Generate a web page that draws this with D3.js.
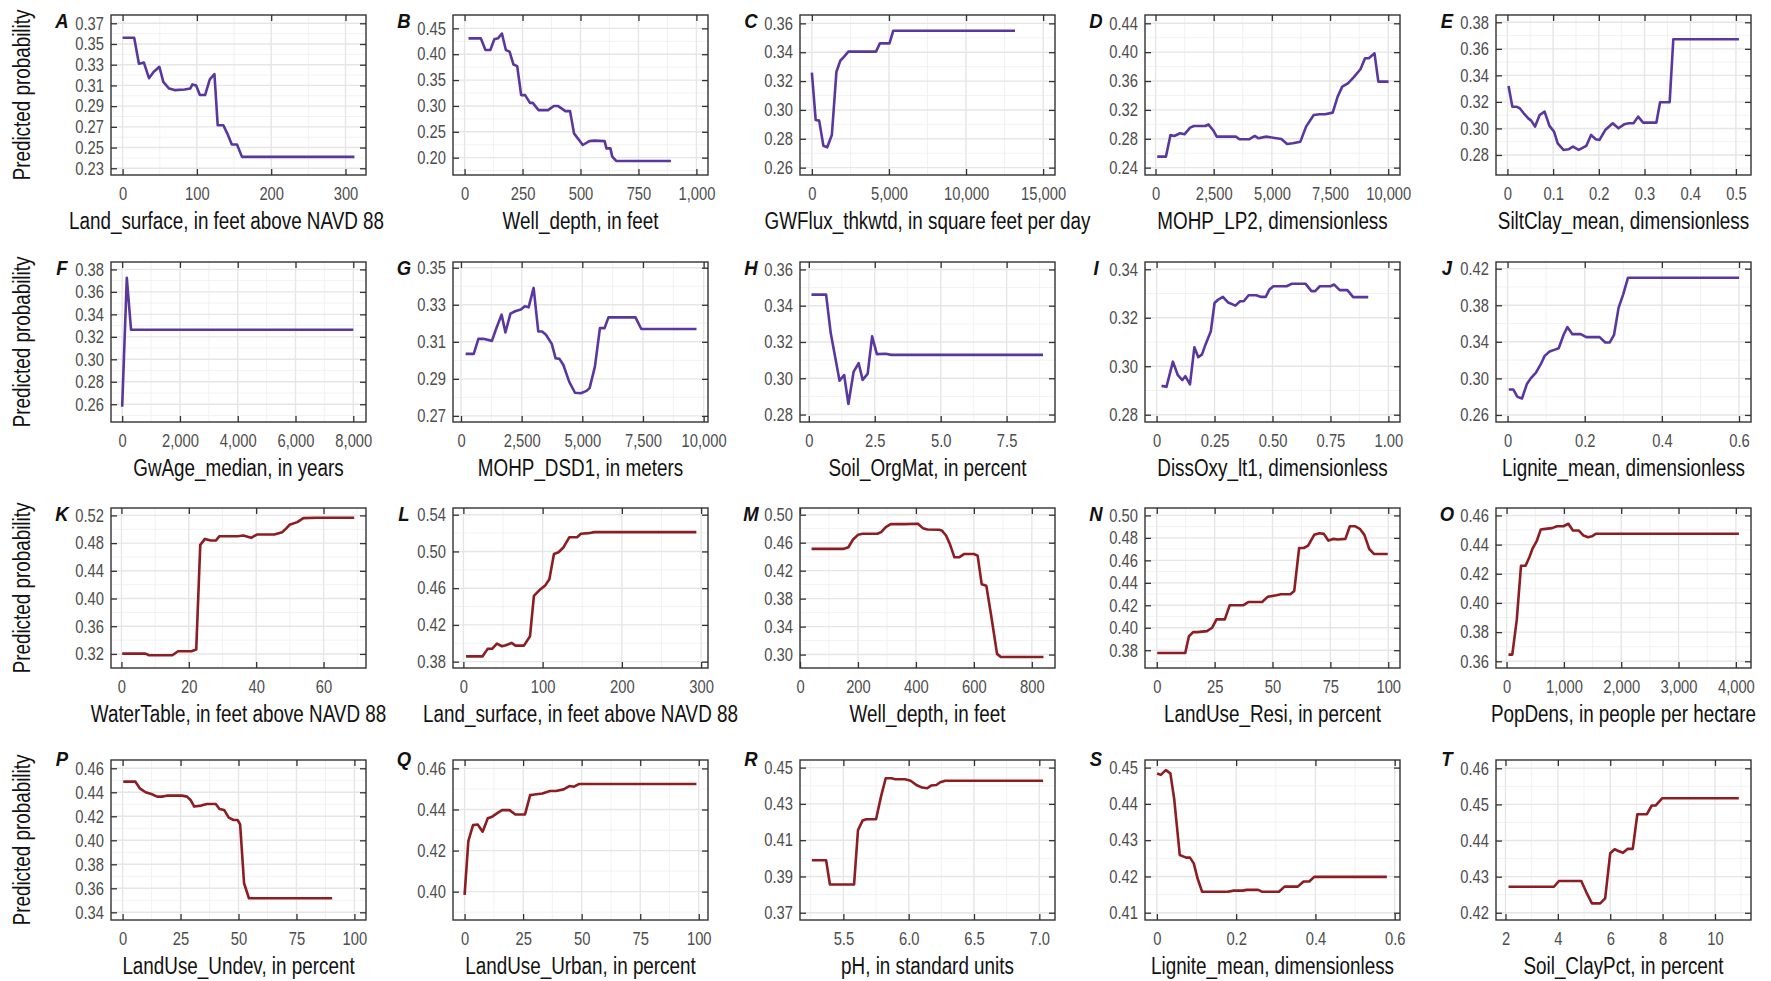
<!DOCTYPE html>
<html>
<head>
<meta charset="utf-8">
<script src="https://cdn.jsdelivr.net/npm/d3@7"></script>
<style>
  body { margin: 0; background: #fff; }
</style>
</head>
<body>
<svg width="1771" height="981"></svg>
<script>
// panel letters and x axis titles
var panelLetters = ["A","B","C","D","E","F","G","H","I","J","K","L","M","N","O","P","Q","R","S","T"];
var axisTitles = [
  "Land_surface, in feet above NAVD 88", "Well_depth, in feet", "GWFlux_thkwtd, in square feet per day",
  "MOHP_LP2, dimensionless", "SiltClay_mean, dimensionless",
  "GwAge_median, in years", "MOHP_DSD1, in meters", "Soil_OrgMat, in percent",
  "DissOxy_lt1, dimensionless", "Lignite_mean, dimensionless",
  "WaterTable, in feet above NAVD 88", "Land_surface, in feet above NAVD 88", "Well_depth, in feet",
  "LandUse_Resi, in percent", "PopDens, in people per hectare",
  "LandUse_Undev, in percent", "LandUse_Urban, in percent", "pH, in standard units",
  "Lignite_mean, dimensionless", "Soil_ClayPct, in percent"
];

// axis ranges
var xDomains = [
  [-15.6, 327.6], [-50, 1050], [-770, 15770], [-453, 10506], [-0.025, 0.533],
  [-387, 8440], [-330, 10180], [-0.335, 9.335], [-0.05, 1.05], [-0.03, 0.631],
  [-3.1, 72.6], [-13.1, 308.7], [0, 880], [-5.08, 105.08], [-185, 4264],
  [-5, 105], [-4.95, 103.95], [5.168, 7.12], [-0.03, 0.6134], [1.638, 11.375]
];
var yDomains = [
  [0.2235, 0.378], [0.1665, 0.4758], [0.2549, 0.3658], [0.2298, 0.4515], [0.2649, 0.3855],
  [0.2442, 0.3866], [0.2667, 0.3531], [0.2759, 0.3641], [0.277, 0.343], [0.2523, 0.4273],
  [0.2997, 0.5307], [0.3731, 0.5473], [0.2808, 0.5096], [0.3642, 0.5066], [0.3554, 0.4651],
  [0.3336, 0.4669], [0.3862, 0.4641], [0.366, 0.4542], [0.408, 0.4521], [0.418, 0.4623]
];

// tick values and labels
var xTickVals = [
  [0,100,200,300], [0,250,500,750,1000], [0,5000,10000,15000], [0,2500,5000,7500,10000], [0,0.1,0.2,0.3,0.4,0.5],
  [0,2000,4000,6000,8000], [0,2500,5000,7500,10000], [0,2.5,5,7.5], [0,0.25,0.5,0.75,1], [0,0.2,0.4,0.6],
  [0,20,40,60], [0,100,200,300], [0,200,400,600,800], [0,25,50,75,100], [0,1000,2000,3000,4000],
  [0,25,50,75,100], [0,25,50,75,100], [5.5,6,6.5,7], [0,0.2,0.4,0.6], [2,4,6,8,10]
];
var xTickLabels = [
  ["0","100","200","300"], ["0","250","500","750","1,000"], ["0","5,000","10,000","15,000"],
  ["0","2,500","5,000","7,500","10,000"], ["0","0.1","0.2","0.3","0.4","0.5"],
  ["0","2,000","4,000","6,000","8,000"], ["0","2,500","5,000","7,500","10,000"], ["0","2.5","5.0","7.5"],
  ["0","0.25","0.50","0.75","1.00"], ["0","0.2","0.4","0.6"],
  ["0","20","40","60"], ["0","100","200","300"], ["0","200","400","600","800"],
  ["0","25","50","75","100"], ["0","1,000","2,000","3,000","4,000"],
  ["0","25","50","75","100"], ["0","25","50","75","100"], ["5.5","6.0","6.5","7.0"],
  ["0","0.2","0.4","0.6"], ["2","4","6","8","10"]
];
var yTickVals = [
  [0.23,0.25,0.27,0.29,0.31,0.33,0.35,0.37], [0.20,0.25,0.30,0.35,0.40,0.45], [0.26,0.28,0.30,0.32,0.34,0.36],
  [0.24,0.28,0.32,0.36,0.40,0.44], [0.28,0.30,0.32,0.34,0.36,0.38],
  [0.26,0.28,0.30,0.32,0.34,0.36,0.38], [0.27,0.29,0.31,0.33,0.35], [0.28,0.30,0.32,0.34,0.36],
  [0.28,0.30,0.32,0.34], [0.26,0.30,0.34,0.38,0.42],
  [0.32,0.36,0.40,0.44,0.48,0.52], [0.38,0.42,0.46,0.50,0.54], [0.30,0.34,0.38,0.42,0.46,0.50],
  [0.38,0.40,0.42,0.44,0.46,0.48,0.50], [0.36,0.38,0.40,0.42,0.44,0.46],
  [0.34,0.36,0.38,0.40,0.42,0.44,0.46], [0.40,0.42,0.44,0.46], [0.37,0.39,0.41,0.43,0.45],
  [0.41,0.42,0.43,0.44,0.45], [0.42,0.43,0.44,0.45,0.46]
];

// partial dependence curves, [x, predicted probability]
var lineA = [[0,0.356],[15.6,0.356],[22,0.331],[28.7,0.332],[35.5,0.317],[41.7,0.323],[49.5,0.328],[54.8,0.3135],[62.6,0.307],[70,0.3055],[83.5,0.306],[91,0.307],[94,0.311],[99,0.310],[104,0.3007],[111,0.3007],[117.4,0.3158],[123.6,0.321],[128,0.2716],[135.6,0.2716],[141,0.2635],[147,0.253],[154,0.253],[160.7,0.241],[312,0.241]];
var lineB = [[17,0.4307],[70,0.4307],[90,0.408],[111,0.408],[128,0.4287],[144,0.4307],[161,0.440],[178,0.408],[194,0.405],[211,0.380],[227,0.377],[244,0.321],[261,0.321],[282,0.306],[294,0.306],[319,0.292],[360,0.292],[385,0.300],[402,0.300],[435,0.290],[455,0.290],[472,0.247],[510,0.2245],[538,0.232],[560,0.233],[604,0.232],[612,0.218],[629,0.218],[637,0.202],[654,0.1936],[890,0.1936]];
var lineC = [[0,0.3258],[249,0.293],[473,0.2926],[747,0.2752],[996,0.2741],[1295,0.2826],[1594,0.3265],[1843,0.3341],[2092,0.3369],[2366,0.3404],[4160,0.3404],[4409,0.3461],[5032,0.3461],[5281,0.3549],[13177,0.3549]];
var lineD = [[70,0.2552],[446,0.2552],[642,0.2853],[806,0.2839],[1051,0.2876],[1242,0.2862],[1487,0.2954],[1650,0.2977],[2140,0.2977],[2271,0.300],[2467,0.2922],[2631,0.283],[3448,0.283],[3611,0.2793],[4020,0.2793],[4265,0.2839],[4428,0.2807],[4755,0.283],[5408,0.2797],[5654,0.2728],[5899,0.2737],[6225,0.276],[6470,0.2968],[6797,0.313],[7042,0.3139],[7287,0.3139],[7614,0.3162],[7827,0.3384],[8023,0.3522],[8268,0.3569],[8513,0.3652],[8807,0.3763],[9003,0.3915],[9166,0.3915],[9411,0.3984],[9575,0.3592],[10016,0.3592]];
var lineE = [[0.0025,0.332],[0.0108,0.3164],[0.019,0.3164],[0.027,0.3152],[0.0357,0.3114],[0.0456,0.3076],[0.052,0.3059],[0.0605,0.3014],[0.0705,0.3101],[0.0813,0.3127],[0.092,0.3019],[0.102,0.2976],[0.110,0.2888],[0.1227,0.2838],[0.1335,0.2843],[0.1434,0.2863],[0.156,0.2838],[0.1725,0.2868],[0.183,0.2951],[0.1932,0.2918],[0.2015,0.2913],[0.214,0.2988],[0.2305,0.3039],[0.243,0.3001],[0.2554,0.3031],[0.266,0.3039],[0.276,0.3039],[0.286,0.3089],[0.297,0.3044],[0.326,0.3044],[0.334,0.3197],[0.355,0.3197],[0.363,0.3672],[0.5066,0.3672]];
var lineF = [[0,0.2578],[160,0.3725],[307,0.3263],[8000,0.3263]];
var lineG = [[191,0.3035],[525,0.3035],[717,0.3116],[923,0.3116],[1274,0.3105],[1433,0.3165],[1672,0.3247],[1831,0.3151],[2038,0.3252],[2229,0.3265],[2468,0.3274],[2627,0.3292],[2786,0.3286],[2993,0.3391],[3184,0.3156],[3343,0.3156],[3502,0.3138],[3741,0.3089],[3900,0.3011],[4059,0.3008],[4219,0.2975],[4458,0.2885],[4697,0.2825],[4935,0.2822],[5174,0.2835],[5300,0.285],[5519,0.2966],[5726,0.3174],[5917,0.3174],[6077,0.3232],[7191,0.3232],[7430,0.3169],[9707,0.3169]];
var lineH = [[0.1,0.3461],[0.655,0.3461],[0.83,0.3249],[1.165,0.2987],[1.34,0.3018],[1.5,0.2858],[1.70,0.3037],[1.89,0.3083],[2.04,0.2991],[2.23,0.3024],[2.40,0.3231],[2.58,0.3133],[2.91,0.3135],[3.13,0.3129],[8.88,0.3129]];
var lineI = [[0.0213,0.2919],[0.0426,0.2915],[0.0704,0.3019],[0.0917,0.2963],[0.111,0.2943],[0.124,0.2959],[0.144,0.2925],[0.163,0.3078],[0.180,0.3037],[0.196,0.3049],[0.212,0.3092],[0.234,0.3144],[0.25,0.3261],[0.266,0.3275],[0.286,0.3286],[0.307,0.3264],[0.340,0.325],[0.360,0.3268],[0.376,0.3268],[0.397,0.3293],[0.430,0.3293],[0.451,0.3286],[0.471,0.3286],[0.487,0.3317],[0.504,0.333],[0.561,0.333],[0.582,0.334],[0.643,0.334],[0.668,0.331],[0.684,0.331],[0.704,0.333],[0.75,0.333],[0.766,0.3337],[0.790,0.3314],[0.823,0.3314],[0.848,0.3285],[0.913,0.3285]];
var lineJ = [[0.003,0.2879],[0.0147,0.2879],[0.0255,0.2798],[0.0373,0.278],[0.050,0.2938],[0.060,0.300],[0.0736,0.3062],[0.0864,0.3158],[0.0962,0.3246],[0.109,0.3294],[0.1208,0.3312],[0.1325,0.333],[0.1453,0.3477],[0.155,0.3561],[0.168,0.3484],[0.1895,0.3484],[0.204,0.3451],[0.2386,0.3451],[0.2533,0.3393],[0.265,0.3393],[0.276,0.3477],[0.2877,0.3771],[0.2995,0.3917],[0.3122,0.4101],[0.6,0.4101]];
var lineK = [[0.23,0.3205],[7.1,0.3205],[8.2,0.3181],[15.1,0.3181],[16.8,0.3239],[20.8,0.3239],[22.2,0.3263],[23.4,0.4774],[24.8,0.4861],[26.5,0.4837],[28,0.4837],[29.1,0.49],[34.5,0.49],[36.2,0.4909],[38.5,0.4876],[40.2,0.4924],[45.4,0.4924],[47.7,0.4958],[49,0.5016],[49.9,0.5064],[52.2,0.5103],[54,0.5161],[58,0.5166],[69.1,0.5166]];
var lineL = [[3.4,0.3858],[24.3,0.3858],[30.6,0.3939],[36.5,0.3942],[42.3,0.3997],[48.6,0.3968],[53.5,0.3979],[60.8,0.4004],[65.7,0.3975],[76.4,0.3975],[84.1,0.4077],[89,0.4516],[97.3,0.4589],[103.6,0.4633],[108.5,0.4698],[114.3,0.4973],[120.1,0.4991],[126.5,0.5046],[133.8,0.5155],[143.5,0.5155],[148.3,0.5192],[158,0.5199],[165.4,0.521],[294,0.521]];
var lineM = [[40,0.4511],[149,0.4511],[167,0.4535],[183,0.4645],[200,0.4712],[216,0.4727],[267,0.4727],[280,0.4751],[296,0.4823],[313,0.4866],[360,0.4866],[407,0.4871],[424,0.4808],[440,0.4789],[480,0.4784],[489,0.4775],[504,0.4703],[517,0.4583],[533,0.4391],[549,0.4391],[567,0.4439],[600,0.4439],[613,0.4415],[627,0.4007],[643,0.3983],[660,0.3552],[680,0.301],[693,0.2966],[840,0.2966]];
var lineN = [[0.2,0.3776],[12.3,0.3776],[13.9,0.3925],[15.7,0.3961],[17.6,0.3961],[21.7,0.397],[23.9,0.400],[25.8,0.4075],[29.4,0.4075],[31.5,0.420],[37.3,0.420],[39.7,0.423],[45.5,0.423],[47.9,0.4275],[51.7,0.429],[53.6,0.4299],[57.7,0.4299],[59.4,0.4328],[61.5,0.471],[63.5,0.471],[65.4,0.4731],[68,0.4827],[70.3,0.4842],[72.2,0.4836],[74.1,0.4776],[76.2,0.4791],[78.2,0.4785],[81.5,0.4791],[83.4,0.4904],[85.6,0.4904],[87.7,0.4881],[89.7,0.4827],[91.8,0.4701],[93.8,0.4657],[99.8,0.4657]];
var lineO = [[33,0.3646],[99,0.3646],[178,0.3887],[251,0.4255],[331,0.4255],[397,0.4313],[450,0.437],[529,0.4428],[595,0.4503],[681,0.4508],[793,0.4513],[879,0.4526],[992,0.4526],[1078,0.4543],[1157,0.4497],[1256,0.4497],[1342,0.4462],[1421,0.4451],[1488,0.4457],[1554,0.4474],[4053,0.4474]];
var lineP = [[0.3,0.4489],[5.5,0.4489],[7.4,0.4433],[9.9,0.44],[12.4,0.4386],[14.9,0.4364],[17,0.4364],[19,0.4372],[25.6,0.4372],[27.8,0.4364],[29.3,0.4336],[30.9,0.4281],[33.9,0.4289],[36.4,0.4303],[40.2,0.4303],[41.8,0.4261],[43.8,0.4253],[45.8,0.4189],[47.9,0.4169],[49.6,0.4169],[50.7,0.4133],[52.4,0.3642],[54.5,0.3517],[90.4,0.3517]];
var lineQ = [[0,0.3984],[1.6,0.4246],[3.6,0.4324],[5.6,0.4327],[7.7,0.4292],[9.9,0.4357],[11.8,0.4365],[13.8,0.4381],[16,0.4397],[19.2,0.4397],[21.7,0.4376],[25.8,0.4376],[28,0.447],[29.9,0.4473],[33.2,0.4478],[36.5,0.449],[39,0.449],[42.3,0.4498],[44.7,0.4514],[46.7,0.4511],[48.8,0.4524],[99,0.4524]];
var lineR = [[5.259,0.3989],[5.368,0.3989],[5.397,0.3856],[5.582,0.3856],[5.612,0.4156],[5.647,0.4208],[5.676,0.4215],[5.75,0.4215],[5.788,0.434],[5.824,0.4441],[5.868,0.4441],[5.897,0.4436],[5.971,0.4436],[6.015,0.4428],[6.059,0.4404],[6.103,0.439],[6.141,0.4386],[6.171,0.4401],[6.212,0.4404],[6.241,0.4419],[6.279,0.4428],[7.029,0.4428]];
var lineS = [[0.0006,0.4484],[0.010,0.448],[0.0225,0.4493],[0.034,0.4484],[0.0435,0.4415],[0.0578,0.4259],[0.0739,0.4252],[0.0834,0.4252],[0.093,0.4236],[0.1025,0.4195],[0.114,0.4158],[0.179,0.4158],[0.1937,0.4161],[0.217,0.4161],[0.2268,0.4163],[0.2555,0.4163],[0.265,0.4158],[0.308,0.4158],[0.322,0.4172],[0.3558,0.4172],[0.37,0.4186],[0.3844,0.4186],[0.3969,0.4199],[0.5803,0.4199]];
var lineT = [[2.116,0.4272],[3.852,0.4272],[4.04,0.4288],[4.894,0.4288],[5.08,0.4258],[5.3,0.4226],[5.618,0.4226],[5.806,0.424],[6.0,0.4365],[6.168,0.4376],[6.313,0.4371],[6.486,0.4366],[6.674,0.4377],[6.86,0.4377],[7.036,0.4473],[7.4,0.4473],[7.586,0.4497],[7.73,0.4497],[7.98,0.4517],[10.91,0.4517]];

var series = [lineA, lineB, lineC, lineD, lineE, lineF, lineG, lineH, lineI, lineJ,
              lineK, lineL, lineM, lineN, lineO, lineP, lineQ, lineR, lineS, lineT];

// layout
var svg = d3.select("svg"),
    W = 255, H = 160,
    colLeft = [111, 453, 800, 1145, 1496],
    rowTop = [15, 262, 508, 760],
    font = "Liberation Sans, Arial, sans-serif",
    squeeze = 0.82;   // condensed look

// squeeze a text horizontally around its own x anchor
function narrow(sel, k) {
  sel.attr("transform", function() {
    var x = +this.getAttribute("x") || 0;
    return "translate(" + x + ",0) scale(" + (k || squeeze) + ",1) translate(" + (-x) + ",0)";
  });
}

// minor grid halfway between the major ticks, kept inside the panel
function minors(t, dom) {
  var step = t[1] - t[0], m = [t[0] - step / 2];
  for (var k = 0; k < t.length - 1; k++) m.push((t[k] + t[k + 1]) / 2);
  m.push(t[t.length - 1] + step / 2);
  return m.filter(function(v) { return v > dom[0] && v < dom[1]; });
}

function styleAxis(g) {
  g.attr("font-family", font).attr("font-size", 18);
  g.select(".domain").remove();
  g.selectAll(".tick line").attr("stroke", "#333").attr("stroke-width", 1.3);
  g.selectAll(".tick text").attr("fill", "#4d4d4d").call(narrow);
}

series.forEach(function(data, i) {
  var col = i % 5, row = Math.floor(i / 5),
      left = colLeft[col], top = rowTop[row],
      colour = i < 10 ? "#5a379f" : "#8c1d22";

  var x = d3.scaleLinear().domain(xDomains[i]).range([0, W]),
      y = d3.scaleLinear().domain(yDomains[i]).range([H, 0]);

  var g = svg.append("g").attr("transform", "translate(" + left + "," + top + ")");

  g.append("clipPath").attr("id", "clip" + i)
    .append("rect").attr("width", W).attr("height", H);

  // grid
  var grid = g.append("g").attr("clip-path", "url(#clip" + i + ")");
  grid.selectAll(".mx").data(minors(xTickVals[i], xDomains[i])).enter().append("line")
      .attr("x1", x).attr("x2", x).attr("y1", 0).attr("y2", H)
      .attr("stroke", "#f0f0f0").attr("stroke-width", 0.9);
  grid.selectAll(".my").data(minors(yTickVals[i], yDomains[i])).enter().append("line")
      .attr("y1", y).attr("y2", y).attr("x1", 0).attr("x2", W)
      .attr("stroke", "#f0f0f0").attr("stroke-width", 0.9);
  grid.selectAll(".gx").data(xTickVals[i]).enter().append("line")
      .attr("x1", x).attr("x2", x).attr("y1", 0).attr("y2", H)
      .attr("stroke", "#e6e6e6").attr("stroke-width", 1.4);
  grid.selectAll(".gy").data(yTickVals[i]).enter().append("line")
      .attr("y1", y).attr("y2", y).attr("x1", 0).attr("x2", W)
      .attr("stroke", "#e6e6e6").attr("stroke-width", 1.4);

  // curve
  g.append("path")
      .datum(data)
      .attr("clip-path", "url(#clip" + i + ")")
      .attr("fill", "none")
      .attr("stroke", colour)
      .attr("stroke-width", 2.6)
      .attr("stroke-linejoin", "round")
      .attr("d", d3.line().x(function(d) { return x(d[0]); }).y(function(d) { return y(d[1]); }));

  // ticks on all four sides, pointing inward
  var labels = xTickLabels[i];
  g.append("g")
      .attr("transform", "translate(0," + H + ")")
      .call(d3.axisBottom(x).tickValues(xTickVals[i])
        .tickFormat(function(d, k) { return labels[k]; })
        .tickSizeInner(-6).tickSizeOuter(0).tickPadding(12))
      .call(styleAxis);
  g.append("g")
      .call(d3.axisTop(x).tickValues(xTickVals[i]).tickFormat("").tickSizeInner(-6).tickSizeOuter(0))
      .call(styleAxis);
  g.append("g")
      .call(d3.axisLeft(y).tickValues(yTickVals[i]).tickFormat(d3.format(".2f"))
        .tickSizeInner(-6).tickSizeOuter(0).tickPadding(7))
      .call(styleAxis);
  g.append("g")
      .attr("transform", "translate(" + W + ",0)")
      .call(d3.axisRight(y).tickValues(yTickVals[i]).tickFormat("").tickSizeInner(-6).tickSizeOuter(0))
      .call(styleAxis);

  // panel border
  g.append("rect")
      .attr("width", W).attr("height", H)
      .attr("fill", "none").attr("stroke", "#333").attr("stroke-width", 1.4);

  // panel letter
  g.append("text")
      .attr("x", -49)
      .attr("y", row === 3 ? 6 : 13)
      .attr("text-anchor", "middle")
      .attr("font-family", font)
      .attr("font-size", 21)
      .attr("font-weight", "bold")
      .attr("font-style", "italic")
      .attr("fill", "#111")
      .text(panelLetters[i])
      .call(narrow, 0.88);

  // x axis title
  g.append("text")
      .attr("x", W / 2 + (i === 0 ? -12 : 0))
      .attr("y", H + 54)
      .attr("text-anchor", "middle")
      .attr("font-family", font)
      .attr("font-size", 23)
      .attr("fill", "#111")
      .text(axisTitles[i])
      .call(narrow);
});

// shared y axis title per row
rowTop.forEach(function(top) {
  svg.append("text")
      .attr("transform", "translate(30," + (top + H / 2) + ") rotate(-90) scale(" + squeeze + ",1)")
      .attr("text-anchor", "middle")
      .attr("font-family", font)
      .attr("font-size", 23)
      .attr("fill", "#111")
      .text("Predicted probability");
});
</script>
</body>
</html>
